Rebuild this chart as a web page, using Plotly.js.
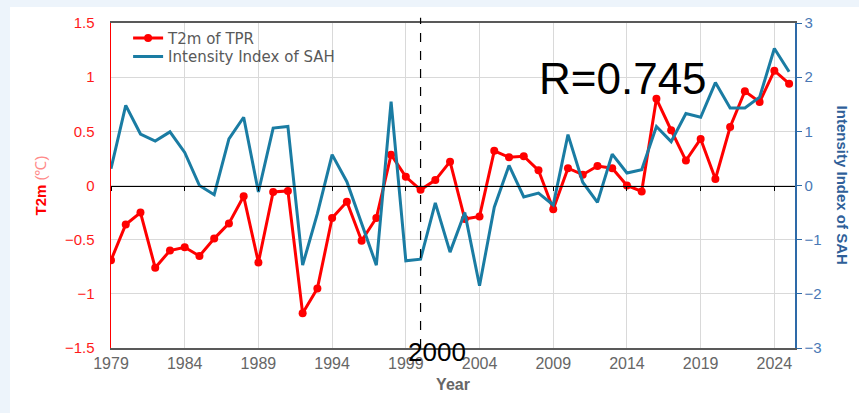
<!DOCTYPE html>
<html>
<head>
<meta charset="utf-8">
<script src="https://cdn.plot.ly/plotly-3.0.1.min.js"></script>
<style>
  html, body { margin:0; padding:0; width:859px; height:413px; background:#edf4fb; overflow:hidden; }
  #chart { position:absolute; left:10px; top:7px; width:849px; height:406px; background:#ffffff; }
</style>
</head>
<body>
<div id="chart"></div>
<script>
const years = [1979,1980,1981,1982,1983,1984,1985,1986,1987,1988,1989,1990,1991,1992,1993,1994,1995,1996,1997,1998,1999,2000,2001,2002,2003,2004,2005,2006,2007,2008,2009,2010,2011,2012,2013,2014,2015,2016,2017,2018,2019,2020,2021,2022,2023,2024,2025];
const t2mTPR = [-0.69,-0.36,-0.25,-0.76,-0.60,-0.57,-0.65,-0.49,-0.35,-0.10,-0.71,-0.06,-0.05,-1.18,-0.95,-0.30,-0.15,-0.51,-0.30,0.285,0.08,-0.04,0.05,0.22,-0.31,-0.285,0.32,0.26,0.27,0.14,-0.22,0.16,0.10,0.18,0.16,0.0,-0.055,0.80,0.51,0.23,0.43,0.06,0.54,0.87,0.77,1.06,0.94];
const sahIndex = [0.31,1.48,0.95,0.82,0.99,0.61,0.0,-0.17,0.86,1.26,-0.12,1.06,1.09,-1.47,-0.52,0.57,0.07,-0.72,-1.47,1.55,-1.39,-1.36,-0.32,-1.23,-0.50,-1.85,-0.40,0.37,-0.21,-0.14,-0.36,0.94,0.06,-0.31,0.58,0.23,0.29,1.09,0.81,1.33,1.26,1.90,1.43,1.43,1.63,2.53,2.10];
const seriesNames = ["T2m of TPR", "Intensity Index of SAH"];
const markYear = 2000;
const rText = "R=0.745";

const tickFont = "'Liberation Sans Narrow', 'Arial Narrow', 'Liberation Sans', Arial, sans-serif";
const sansFont = "'Liberation Sans', Arial, sans-serif";
const legendFont = {family: "'DejaVu Sans', 'Noto Sans', sans-serif", size: 15, color: '#595959'};

const traces = [
  {
    x: years, y: t2mTPR, name: seriesNames[0], type: 'scatter', mode: 'lines+markers',
    line: {color: '#ff0000', width: 3}, marker: {color: '#ff0000', size: 8},
    xaxis: 'x', yaxis: 'y', legend: 'legend'
  },
  {
    x: years, y: sahIndex, name: seriesNames[1], type: 'scatter', mode: 'lines',
    line: {color: '#1a7ca3', width: 3},
    xaxis: 'x', yaxis: 'y2', legend: 'legend2'
  },
  {
    x: years, y: years.map(() => null), type: 'scatter', mode: 'lines', showlegend: false,
    hoverinfo: 'skip', xaxis: 'x2', yaxis: 'y'
  }
];

const legendBase = {
  xanchor: 'left', yanchor: 'middle',
  bgcolor: 'rgba(0,0,0,0)', borderwidth: 0,
  font: legendFont, itemwidth: 30
};

const layout = {
  width: 849, height: 406,
  margin: {l: 101, r: 64, t: 16, b: 65},
  paper_bgcolor: '#ffffff', plot_bgcolor: '#ffffff',
  showlegend: true,
  legend: Object.assign({}, legendBase, {x: 0.025, y: 0.953}),
  legend2: Object.assign({}, legendBase, {x: 0.025, y: 0.896}),
  xaxis: {
    range: [1979, 2025.4], tick0: 1979, dtick: 5, tickmode: 'linear',
    showgrid: true, gridcolor: '#d9d9d9', gridwidth: 1,
    showline: true, linecolor: '#595959', linewidth: 2, mirror: true,
    ticks: '', zeroline: false,
    tickfont: {family: tickFont, size: 16, color: '#666666'},
    title: {text: '<b>Year</b>', font: {family: sansFont, size: 16, color: '#666666'}, standoff: 8}
  },
  xaxis2: {
    matches: 'x', overlaying: 'x', anchor: 'free', position: 0.5,
    range: [1979, 2025.4], tick0: 1979, dtick: 5, tickmode: 'linear',
    showgrid: false, showticklabels: false, zeroline: false,
    showline: true, linecolor: '#000000', linewidth: 1,
    ticks: 'outside', ticklen: 4, tickcolor: '#000000'
  },
  yaxis: {
    range: [-1.5, 1.5], dtick: 0.5, tickmode: 'linear',
    showgrid: true, gridcolor: '#d9d9d9', gridwidth: 1,
    zeroline: false, showline: true, linecolor: '#ff0000', linewidth: 1.5,
    ticks: '', ticklabelstandoff: 12,
    tickfont: {family: sansFont, size: 15, color: '#ff1a1a'},
    title: {text: '<b>T2m</b> <span style="color:#ff8a8a">(℃)</span>', font: {family: sansFont, size: 15, color: '#ff0000'}, standoff: 14}
  },
  yaxis2: {
    range: [-3, 3], dtick: 1, tickmode: 'linear',
    overlaying: 'y', side: 'right', anchor: 'x',
    showgrid: false, zeroline: false,
    showline: true, linecolor: '#2e6aa8', linewidth: 1.5,
    ticks: 'outside', ticklen: 5, tickcolor: '#2e6aa8',
    tickfont: {family: sansFont, size: 15, color: '#4a78b5'}
  },
  shapes: [
    {type: 'line', xref: 'x', yref: 'paper', x0: markYear, x1: markYear, y0: 0, y1: 1.016,
     line: {color: '#000000', width: 1.2, dash: 'dash'}}
  ],
  annotations: [
    {text: rText, xref: 'paper', yref: 'paper', x: 0.748, y: 0.83, xanchor: 'center', yanchor: 'middle',
     showarrow: false, font: {family: sansFont, size: 44, color: '#000000'}},
    {text: String(markYear), xref: 'x', yref: 'paper', x: markYear + 1.1, y: -0.013, xanchor: 'center', yanchor: 'middle',
     showarrow: false, font: {family: sansFont, size: 26, color: '#000000'}},
    {text: '<b>Intensity Index of SAH</b>', xref: 'paper', yref: 'paper', x: 1.07, y: 0.5,
     xanchor: 'center', yanchor: 'middle', textangle: 90, showarrow: false,
     font: {family: sansFont, size: 15, color: '#2f5f99'}}
  ]
};

Plotly.newPlot('chart', traces, layout, {displayModeBar: false, staticPlot: true});
</script>
</body>
</html>
